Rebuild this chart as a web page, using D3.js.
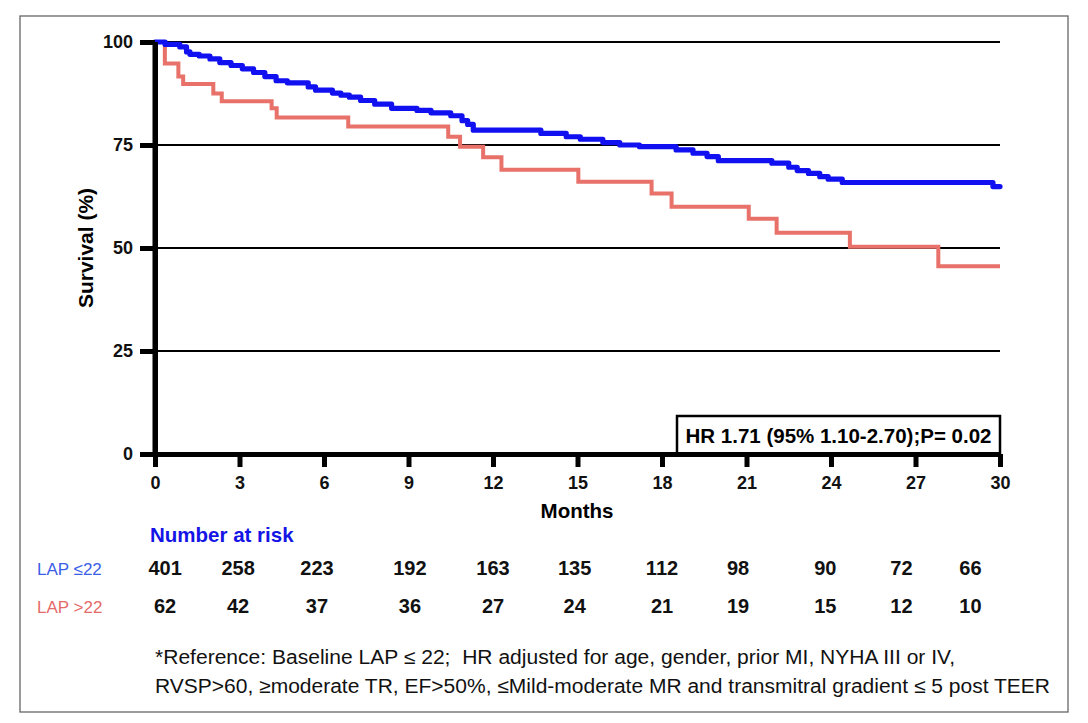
<!DOCTYPE html>
<html>
<head>
<meta charset="utf-8">
<script src="https://cdn.jsdelivr.net/npm/d3@7"></script>
<style>
  html, body { margin: 0; padding: 0; background: #fff; }
  svg { display: block; font-family: "Liberation Sans", Arial, sans-serif; }
</style>
</head>
<body>
<svg id="chart" width="1088" height="723"></svg>
<script>
// ---------- DATA ----------
const xTicks = [0, 3, 6, 9, 12, 15, 18, 21, 24, 27, 30];
const yTicks = [0, 25, 50, 75, 100];

const lowLapTimes = [0, 0.36, 0.88, 1.12, 1.24, 1.57, 1.95, 2.3, 2.7, 3.1, 3.5, 3.9, 4.3, 4.7, 5.44, 5.7, 6.3, 6.6, 6.9, 7.3, 7.8, 8.4, 9.3, 9.8, 10.5, 10.9, 11.1, 11.3, 13.7, 14.6, 15.1, 15.9, 16.5, 17.2, 18.5, 19.1, 19.6, 20.0, 21.9, 22.5, 22.8, 23.2, 23.6, 23.9, 24.4, 29.75, 30];
const lowLapSurv  = [100, 99.4, 98.8, 97.6, 97.0, 96.6, 95.9, 95.0, 94.3, 93.5, 92.6, 91.6, 90.6, 90.1, 89.1, 88.3, 87.6, 87.1, 86.6, 85.8, 84.9, 83.9, 83.4, 82.8, 82.1, 80.9, 80.0, 78.6, 77.8, 77.0, 76.4, 75.6, 75.0, 74.6, 73.8, 73.0, 72.2, 71.2, 70.6, 69.6, 68.8, 68.1, 67.3, 66.7, 65.9, 64.9, 64.9];

const highLapTimes = [0, 0.35, 0.83, 1.0, 2.07, 2.37, 4.14, 4.32, 6.86, 10.41, 10.83, 11.65, 12.3, 15.03, 17.63, 18.34, 21.08, 22.07, 24.67, 27.81, 30];
const highLapSurv  = [100, 94.8, 91.6, 89.8, 87.5, 85.6, 83.9, 81.7, 79.5, 77.0, 74.6, 72.0, 69.0, 66.1, 63.2, 60.0, 57.1, 53.7, 50.3, 45.6, 45.6];

const groupLabels = ["LAP \u226422", "LAP >22"];
const riskLow  = [401, 258, 223, 192, 163, 135, 112, 98, 90, 72, 66];
const riskHigh = [62, 42, 37, 36, 27, 24, 21, 19, 15, 12, 10];

const hrText = "HR 1.71 (95% 1.10-2.70);P= 0.02";
const footLines = [
  "*Reference: Baseline LAP \u2264 22;  HR adjusted for age, gender, prior MI, NYHA III or IV,",
  "RVSP>60, \u2265moderate TR, EF>50%, \u2264Mild-moderate MR and transmitral gradient \u2264 5 post TEER"
];

// ---------- LAYOUT ----------
const riskCols = [0.36, 2.95, 5.75, 9.05, 12.0, 14.9, 18.0, 20.7, 23.8, 26.5, 28.95]; // column centres (months)
const BLUE = "#1010f0", RED = "#e8716a";

const svg = d3.select("#chart");

// outer frame
svg.append("rect").attr("x", 20).attr("y", 16).attr("width", 1048).attr("height", 696)
  .attr("fill", "none").attr("stroke", "#666").attr("stroke-width", 1.3);

const x = d3.scaleLinear().domain([0, 30]).range([155, 1000]);
const y = d3.scaleLinear().domain([0, 100]).range([454, 42]);

// gridlines
svg.append("g").selectAll("line").data(yTicks.filter(d => d > 0)).join("line")
  .attr("x1", x(0)).attr("x2", x(30))
  .attr("y1", d => y(d)).attr("y2", d => y(d))
  .attr("stroke", "#000").attr("stroke-width", 1.8);

// curves
const line = d3.line().x(d => x(d[0])).y(d => y(d[1])).curve(d3.curveStepAfter);
const redData = highLapTimes.map((t, i) => [t, highLapSurv[i]]);
const blueData = lowLapTimes.map((t, i) => [t, lowLapSurv[i]]);
svg.append("path").attr("d", line(redData)).attr("fill", "none")
  .attr("stroke", RED).attr("stroke-width", 4).attr("stroke-linejoin", "miter");
svg.append("path").attr("d", line(blueData)).attr("fill", "none")
  .attr("stroke", BLUE).attr("stroke-width", 5.2).attr("stroke-linejoin", "round").attr("stroke-linecap", "round");

// HR box
const hrG = svg.append("g");
hrG.append("rect").attr("x", 677).attr("y", 416).attr("width", x(30) - 677).attr("height", y(0) - 416)
  .attr("fill", "#fff").attr("stroke", "#000").attr("stroke-width", 2.5);
hrG.append("text").attr("x", (677 + x(30)) / 2).attr("y", 443).attr("text-anchor", "middle")
  .attr("font-size", 20.5).attr("font-weight", "bold").text(hrText);

// axes
const yAxis = d3.axisLeft(y).tickValues(yTicks).tickSize(15).tickSizeOuter(0).tickPadding(7);
const xAxis = d3.axisBottom(x).tickValues(xTicks).tickSize(13).tickSizeOuter(0).tickPadding(9);

const gy = svg.append("g").attr("transform", `translate(${x(0)},0)`).call(yAxis);
const gx = svg.append("g").attr("transform", `translate(0,${y(0)})`).call(xAxis);
[gx, gy].forEach(g => {
  g.select(".domain").attr("stroke", "#000").attr("stroke-width", 5);
  g.selectAll(".tick line").attr("stroke", "#000").attr("stroke-width", 5);
  g.selectAll(".tick text").attr("fill", "#111").attr("font-size", 18).attr("font-weight", "bold")
    .attr("font-family", "Liberation Sans, Arial, sans-serif");
});
// extend axis lines to meet at corner
svg.append("line").attr("x1", x(0)).attr("x2", x(0)).attr("y1", y(100)).attr("y2", y(0) + 2.5)
  .attr("stroke", "#000").attr("stroke-width", 5);

// axis titles
svg.append("text").attr("x", 577).attr("y", 518).attr("text-anchor", "middle")
  .attr("font-size", 20.5).attr("font-weight", "bold").text("Months");
svg.append("text").attr("transform", `translate(93,${y(50)}) rotate(-90)`).attr("text-anchor", "middle")
  .attr("font-size", 21).attr("font-weight", "bold").text("Survival (%)");

// number at risk
svg.append("text").attr("x", 150).attr("y", 542).attr("font-size", 20.5).attr("font-weight", "bold")
  .attr("fill", "#1414e6").text("Number at risk");

const rows = [riskLow, riskHigh];
const rowY = [575, 613];
const labColors = ["#3a5ee6", "#e56a6a"];
rows.forEach((r, i) => {
  svg.append("text").attr("x", 37).attr("y", rowY[i]).attr("font-size", 17)
    .attr("fill", labColors[i]).text(groupLabels[i]);
  svg.append("g").selectAll("text").data(r).join("text")
    .attr("x", (d, j) => x(riskCols[j])).attr("y", rowY[i])
    .attr("text-anchor", "middle").attr("font-size", 20).attr("font-weight", "bold")
    .attr("fill", "#111").text(d => d);
});

// footnote
const footY = [664, 693];
const footW = [800, 895];
footLines.forEach((t, i) => {
  svg.append("text").attr("x", 155).attr("y", footY[i]).attr("font-size", 20)
    .attr("font-family", "'Liberation Sans Narrow', 'Arial Narrow', 'Liberation Sans', Arial, sans-serif")
    .style("white-space", "pre")
    .attr("fill", "#111").attr("textLength", footW[i]).attr("lengthAdjust", "spacingAndGlyphs")
    .text(t);
});
</script>
</body>
</html>
